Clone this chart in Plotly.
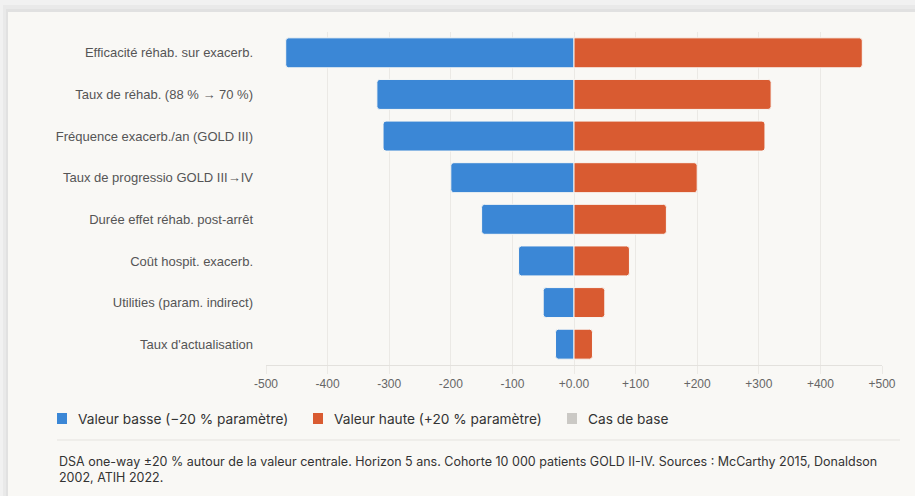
import plotly.graph_objects as go

# Tornado diagram: one-way DSA, ±20 % on each parameter
parametres = [
    "Efficacité réhab. sur exacerb.",
    "Taux de réhab. (88 % → 70 %)",
    "Fréquence exacerb./an (GOLD III)",
    "Taux de progressio GOLD III→IV",
    "Durée effet réhab. post-arrêt",
    "Coût hospit. exacerb.",
    "Utilities (param. indirect)",
    "Taux d'actualisation",
]
valeur_basse = [-468, -320, -310, -200, -150, -90, -50, -30]
valeur_haute = [468, 320, 310, 200, 150, 90, 50, 30]

tick_vals = [-500, -400, -300, -200, -100, 0, 100, 200, 300, 400, 500]
tick_text = ["-500", "-400", "-300", "-200", "-100", "+0.00",
             "+100", "+200", "+300", "+400", "+500"]

legend_labels = ["Valeur basse (−20 % paramètre)",
                 "Valeur haute (+20 % paramètre)",
                 "Cas de base"]
note = ("DSA one-way ±20 % autour de la valeur centrale. Horizon 5 ans. "
        "Cohorte 10 000 patients GOLD II-IV. Sources : McCarthy 2015, Donaldson"
        "<br>2002, ATIH 2022.")

BLUE = "#3b87d6"
ORANGE = "#d95b31"
GREY = "#cbc9c5"
CARD = "#f9f8f5"
OUTER = "#f1f1f1"

W, H = 915, 496
ML, MR, MT, MB = 266, 33, 32, 131
PW, PH = W - ML - MR, H - MT - MB


def px(x):
    return (x - ML) / PW


def py(y):
    return (H - MB - y) / PH


fig = go.Figure()
fig.add_trace(go.Bar(
    y=parametres, x=valeur_basse, orientation="h", name=legend_labels[0],
    marker=dict(color=BLUE, line=dict(color=CARD, width=1)),
    showlegend=False, hoverinfo="x+y",
))
fig.add_trace(go.Bar(
    y=parametres, x=valeur_haute, orientation="h", name=legend_labels[1],
    marker=dict(color=ORANGE, line=dict(color=CARD, width=1)),
    showlegend=False, hoverinfo="x+y",
))

shapes = [
    # soft shadow and card
    dict(type="rect", xref="paper", yref="paper", layer="below",
         x0=px(3), x1=px(W + 20), y0=py(H + 20), y1=py(5),
         fillcolor="rgba(0,0,0,0.03)", line=dict(width=0)),
    dict(type="rect", xref="paper", yref="paper", layer="below",
         x0=px(6), x1=px(W + 20), y0=py(H + 20), y1=py(9),
         fillcolor="rgba(0,0,0,0.03)", line=dict(width=0)),
    dict(type="rect", xref="paper", yref="paper", layer="below",
         x0=px(8), x1=px(W + 20), y0=py(H + 20), y1=py(12),
         fillcolor=CARD, line=dict(width=0)),
    # separator above the note
    dict(type="line", xref="paper", yref="paper",
         x0=px(57), x1=px(900), y0=py(440), y1=py(440),
         line=dict(color="#e5e3df", width=1)),
]

annotations = []
legend_x = [57, 313, 567]
legend_colors = [BLUE, ORANGE, GREY]
for lx, col, lab in zip(legend_x, legend_colors, legend_labels):
    shapes.append(dict(type="rect", xref="paper", yref="paper",
                       x0=px(lx), x1=px(lx + 10), y0=py(424), y1=py(413),
                       fillcolor=col, line=dict(width=0)))
    annotations.append(dict(xref="paper", yref="paper", x=px(lx + 19), y=py(418.5),
                            xanchor="left", yanchor="middle", showarrow=False,
                            text=lab, font=dict(family="Inter", size=13.7, color="#333333")))

annotations.append(dict(xref="paper", yref="paper", x=px(57), y=py(469.5),
                        xanchor="left", yanchor="middle", align="left",
                        showarrow=False, text=note,
                        font=dict(family="Inter", size=12.5, color="#333333")))

fig.update_layout(
    width=W, height=H,
    margin=dict(l=ML, r=MR, t=MT, b=MB, pad=0),
    paper_bgcolor=OUTER, plot_bgcolor=CARD,
    barmode="relative", bargap=0.28, barcornerradius=3,
    font=dict(family="Liberation Sans, Arial, sans-serif", size=12, color="#555555"),
    shapes=shapes, annotations=annotations,
    xaxis=dict(
        range=[-500, 500], tickvals=tick_vals, ticktext=tick_text,
        showgrid=True, gridcolor="#ebe9e5", gridwidth=1, zeroline=False,
        showline=True, linecolor="#e3e1dd", linewidth=1,
        ticks="outside", ticklen=8, tickcolor="#ebe9e5",
        tickfont=dict(size=12, color="#666666"),
        fixedrange=True,
    ),
    yaxis=dict(
        categoryorder="array", categoryarray=parametres, autorange="reversed",
        showgrid=False, zeroline=False, showline=False, ticks="",
        ticklabelstandoff=12,
        tickfont=dict(size=13, color="#555555"),
        fixedrange=True,
    ),
)

fig.write_html("out.html", config={"displayModeBar": False})
